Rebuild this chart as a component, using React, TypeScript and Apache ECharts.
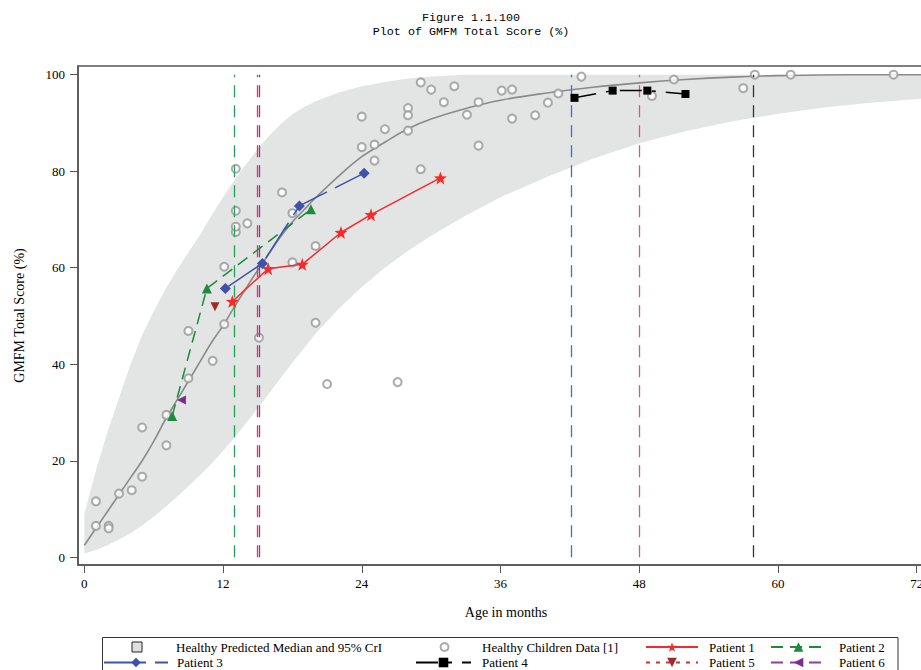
import React, { useEffect, useRef } from "react";
import * as echarts from "echarts";

// ---- Data ----
const bandAges = [0, 1, 2, 3, 4, 5, 6, 7, 8, 9, 10, 11, 12, 13, 14, 15, 16, 17, 18, 19, 20, 22, 24, 26, 28, 30, 33, 36, 40, 44, 48, 52, 56, 60, 64, 68, 74];
const bandLower = [0.8, 1.5, 2.5, 3.7, 5, 6.6, 8.4, 10.4, 12.5, 14.7, 17, 19.4, 22, 24.8, 27.8, 30.9, 34, 37.2, 40.3, 43.3, 46.3, 51.5, 56, 60, 63.5, 66.6, 70.8, 74.6, 78.8, 82.6, 85.8, 88.3, 90.3, 91.9, 93.2, 94.2, 95.3];
const bandUpper = [9, 18, 26, 33, 40, 46, 51, 55.5, 59.5, 63.2, 66.8, 70.8, 74.6, 78.2, 81.5, 84.6, 87.4, 89.8, 91.8, 93.3, 94.5, 96.3, 97.6, 98.5, 99.2, 99.6, 100, 100, 100, 100, 100, 100, 100, 100, 100, 100, 100];

const medianAges = [0, 1, 2, 3, 4, 5, 6, 7, 8, 9, 10, 11, 12, 13, 14, 15, 16, 17, 18, 19, 20, 22, 24, 26, 28, 30, 33, 36, 40, 44, 48, 52, 56, 60, 66, 74];
const medianScores = [2.5, 6, 9.5, 13, 16.5, 20, 24, 28.5, 32.5, 36.5, 40.5, 44.5, 48, 52, 55.8, 59.5, 63, 66.5, 69.5, 72, 74.5, 79, 83, 86, 88.8, 90.8, 93, 94.7, 96.2, 97.4, 98.3, 99, 99.5, 99.8, 100, 100];

const healthyAges = [1.0, 1.0, 2.1, 2.1, 3.0, 4.1, 5.0, 5.0, 7.1, 7.1, 9.0, 9.0, 11.1, 12.1, 12.1, 13.1, 13.1, 13.1, 13.1, 14.1, 15.1, 17.1, 18.0, 18.0, 20.0, 20.0, 21.0, 24.0, 24.0, 25.1, 25.1, 26.0, 27.1, 28.0, 28.0, 28.0, 29.1, 29.1, 30.0, 31.1, 32.0, 33.1, 34.1, 34.1, 36.1, 37.0, 37.0, 39.0, 40.1, 41.0, 43.0, 49.1, 51.0, 57.0, 58.0, 61.1, 70.0];
const healthyScores = [11.6, 6.5, 6.5, 6.0, 13.2, 13.9, 16.7, 26.9, 23.2, 29.5, 37.1, 46.9, 40.7, 48.3, 60.2, 67.4, 68.5, 71.8, 80.5, 69.2, 45.5, 75.6, 61.1, 71.3, 64.5, 48.6, 35.9, 91.3, 85.0, 85.5, 82.2, 88.7, 36.3, 93.1, 91.6, 88.4, 98.4, 80.4, 96.9, 94.3, 97.6, 91.7, 94.3, 85.3, 96.7, 96.9, 90.9, 91.6, 94.2, 96.1, 99.6, 95.6, 99.0, 97.2, 100, 100, 100];

const p1Ages = [12.8, 15.9, 18.85, 22.2, 24.8, 30.8];
const p1Scores = [53.0, 59.8, 60.7, 67.3, 71.0, 78.6];
const p2Ages = [7.6, 10.6, 19.6];
const p2Scores = [29.3, 55.7, 72.1];
const p3Ages = [12.2, 15.4, 18.6, 24.2];
const p3Scores = [55.7, 60.9, 72.8, 79.6];
const p4Ages = [42.4, 45.7, 48.7, 52.0];
const p4Scores = [95.2, 96.7, 96.7, 96.0];
const p5Ages = [11.3];
const p5Scores = [51.9];
const p6Ages = [8.4];
const p6Scores = [32.6];

// age at which each patient's vertical reference line is drawn
const patientRefAges = [14.95, 13.0, 42.1, 57.9, 48.0, 15.15];

const xTicks = [0, 12, 24, 36, 48, 60, 72];
const yTicks = [0, 20, 40, 60, 80, 100];

const legendRow1 = ["Healthy Predicted Median and 95% CrI", "Healthy Children Data [1]", "Patient 1", "Patient 2"];
const legendRow2 = ["Patient 3", "Patient 4", "Patient 5", "Patient 6"];

const SERIF = "'Liberation Serif', 'Times New Roman', serif";
const STAR = "path://M0,-10 L2.35,-3.24 L9.51,-3.09 L3.8,1.24 L5.88,8.09 L0,4 L-5.88,8.09 L-3.8,1.24 L-9.51,-3.09 L-2.35,-3.24 Z";

const pairs = (xs: number[], ys: number[]) => xs.map((x, i) => [x, ys[i]]);

function vline(x: number, color: string) {
  return {
    silent: true,
    symbol: "none",
    label: { show: false },
    emphasis: { disabled: true },
    lineStyle: { color, type: [12, 8], width: 1.3, opacity: 1 },
    data: [[{ coord: [x, 0] }, { coord: [x, 100] }]],
  };
}

export default function App() {
  const ref = useRef<HTMLDivElement>(null);
  useEffect(() => {
    if (!ref.current) return;
    const chart = echarts.init(ref.current, undefined, { renderer: "svg" });

    const legendText = (pad: number) => ({
      fontFamily: SERIF,
      fontSize: 13,
      color: "#000",
      lineHeight: 14,
      padding: [0, 0, 0, pad],
    });
    const mkLegend = (name: string, left: number, top: number, w: number, h: number, pad: number, extra: any = {}) => ({
      show: true,
      data: [extra.item ? { name, ...extra.item } : name],
      left,
      top,
      orient: "horizontal",
      padding: 0,
      itemWidth: w,
      itemHeight: h,
      selectedMode: false,
      textStyle: legendText(pad),
    });

    const option: any = {
      animation: false,
      backgroundColor: "#fff",
      title: {
        text: "Figure 1.1.100\nPlot of GMFM Total Score (%)",
        left: 466,
        top: 6,
        textAlign: "center",
        textStyle: {
          fontFamily: "'Liberation Mono', 'DejaVu Sans Mono', monospace",
          fontSize: 11.7,
          fontWeight: "normal",
          lineHeight: 14,
          color: "#000",
        },
      },
      legend: [
        mkLegend(legendRow1[0], 131.5, 640, 10, 10, 29, {
          item: { icon: "rect", itemStyle: { color: "#e0e0e0", borderColor: "#222", borderWidth: 1 } },
        }),
        mkLegend(legendRow1[1], 439.5, 640, 8, 8, 28.5),
        mkLegend(legendRow1[2], 645, 640, 52, 12, 6),
        mkLegend(legendRow1[3], 770, 640, 55, 12, 8),
        mkLegend(legendRow2[0], 103, 655.5, 64, 12, 4),
        mkLegend(legendRow2[1], 415, 655.5, 55, 12, 6),
        mkLegend(legendRow2[2], 645, 655.5, 52, 12, 6),
        mkLegend(legendRow2[3], 770, 655.5, 55, 12, 8),
      ],
      graphic: [
        {
          type: "rect",
          shape: { x: 102.5, y: 637.5, width: 795.5, height: 60 },
          style: { fill: "none", stroke: "#333", lineWidth: 1 },
          silent: true,
          z: 0,
        },
      ],
      grid: {
        left: 78,
        top: 66,
        bottom: 105,
        right: 0,
        show: true,
        borderColor: "#555",
        borderWidth: 1.5,
        backgroundColor: "transparent",
      },
      xAxis: {
        type: "value",
        min: -0.55,
        max: 73.5,
        name: "Age in months",
        nameLocation: "middle",
        nameGap: 40,
        nameTextStyle: { fontFamily: SERIF, fontSize: 14, color: "#000" },
        axisLine: { show: true, onZero: false, lineStyle: { color: "#555", width: 1.5 } },
        axisTick: { show: true, inside: false, length: 8, customValues: xTicks, lineStyle: { color: "#555" } },
        axisLabel: { customValues: xTicks, margin: 12, fontFamily: SERIF, fontSize: 13, color: "#000" },
        splitLine: { show: false },
      },
      yAxis: {
        type: "value",
        min: -1.6,
        max: 101.8,
        name: "GMFM Total Score (%)",
        nameLocation: "middle",
        nameGap: 52,
        nameTextStyle: { fontFamily: SERIF, fontSize: 14, color: "#000" },
        axisLine: { show: true, onZero: false, lineStyle: { color: "#555", width: 1.5 } },
        axisTick: { show: true, inside: false, length: 8, customValues: yTicks, lineStyle: { color: "#555" } },
        axisLabel: { customValues: yTicks, margin: 13, fontFamily: SERIF, fontSize: 13, color: "#000" },
        splitLine: { show: false },
      },
      series: [
        {
          name: legendRow1[0],
          type: "custom",
          data: [[0, 0]],
          silent: true,
          itemStyle: { color: "#e3e4e4" },
          z: 1,
          renderItem: (params: any, api: any) => {
            const pts: number[][] = [];
            for (let i = 0; i < bandAges.length; i++) pts.push(api.coord([bandAges[i], bandUpper[i]]));
            for (let i = bandAges.length - 1; i >= 0; i--) pts.push(api.coord([bandAges[i], bandLower[i]]));
            return {
              type: "polygon",
              shape: { points: pts },
              style: { fill: "#e3e4e4", stroke: "none" },
              silent: true,
            };
          },
        },
        {
          name: "median",
          type: "line",
          data: pairs(medianAges, medianScores),
          smooth: 0.4,
          symbol: "none",
          silent: true,
          lineStyle: { color: "#8a8a8a", width: 1.6 },
          z: 2,
        },
        {
          name: legendRow1[1],
          type: "scatter",
          data: pairs(healthyAges, healthyScores),
          symbol: "emptyCircle",
          symbolSize: 8,
          itemStyle: { color: "#979797", borderWidth: 1.1 },
          z: 3,
        },
        {
          name: "Patient 1",
          type: "line",
          data: pairs(p1Ages, p1Scores),
          symbol: STAR,
          symbolSize: 13,
          itemStyle: { color: "#f52a2a" },
          lineStyle: { color: "#f52a2a", width: 1.5, type: "solid" },
          markLine: vline(patientRefAges[0], "#e8344e"),
          z: 5,
        },
        {
          name: "Patient 2",
          type: "line",
          data: pairs(p2Ages, p2Scores),
          symbol: "triangle",
          symbolSize: 10,
          itemStyle: { color: "#1f8a3c" },
          lineStyle: { color: "#1f8a3c", width: 1.5, type: [12, 7] },
          markLine: vline(patientRefAges[1], "#25a05a"),
          z: 5,
        },
        {
          name: "Patient 3",
          type: "line",
          data: pairs(p3Ages, p3Scores),
          symbol: "diamond",
          symbolSize: 11,
          itemStyle: { color: "#3d52a8" },
          lineStyle: { color: "#3d52a8", width: 1.5, type: [42, 9] },
          markLine: vline(patientRefAges[2], "#4a66d8"),
          z: 5,
        },
        {
          name: "Patient 4",
          type: "line",
          data: pairs(p4Ages, p4Scores),
          symbol: "rect",
          symbolSize: 8,
          itemStyle: { color: "#000" },
          lineStyle: { color: "#000", width: 1.5, type: [22, 10, 4, 10] },
          markLine: vline(patientRefAges[3], "#333"),
          z: 5,
        },
        {
          name: "Patient 5",
          type: "line",
          data: pairs(p5Ages, p5Scores),
          symbol: "triangle",
          symbolRotate: 180,
          symbolSize: 9,
          itemStyle: { color: "#9e2a2a" },
          lineStyle: { color: "#c0392b", width: 1.5, type: [4, 6] },
          markLine: vline(patientRefAges[4], "#d06060"),
          z: 5,
        },
        {
          name: "Patient 6",
          type: "line",
          data: pairs(p6Ages, p6Scores),
          symbol: "triangle",
          symbolRotate: 90,
          symbolSize: 9,
          itemStyle: { color: "#7b2d8e" },
          lineStyle: { color: "#8b3fa0", width: 1.5, type: [12, 7] },
          markLine: vline(patientRefAges[5], "#8a35b0"),
          z: 5,
        },
      ],
    };
    chart.setOption(option);
    return () => chart.dispose();
  }, []);

  return (
    <div style={{ position: "absolute", left: 0, top: 0, width: 921, height: 670, overflow: "hidden" }}>
      <div ref={ref} style={{ width: 934, height: 670 }} />
    </div>
  );
}
